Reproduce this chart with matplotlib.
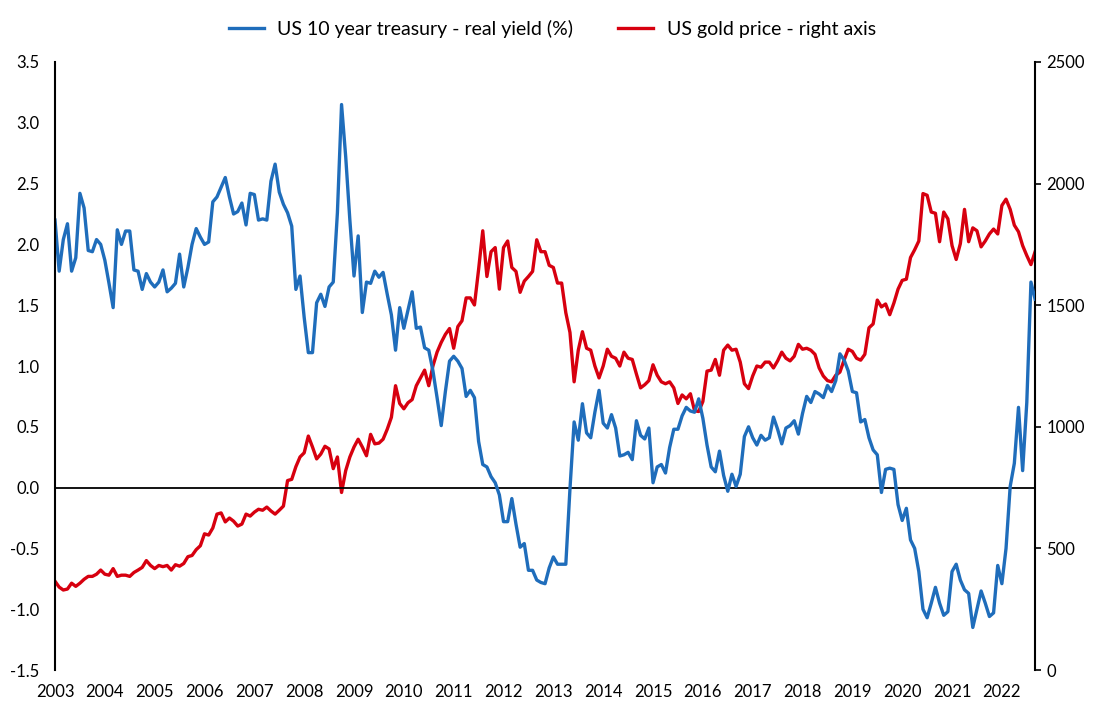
import numpy as np
import matplotlib
matplotlib.use("Agg")
import matplotlib.pyplot as plt

# monthly readings, Jan 2003 onwards
real_yield = [
    2.20, 1.78, 2.04, 2.17, 1.78, 1.89, 2.42, 2.30, 1.95, 1.94, 2.04, 2.00,
    1.87, 1.68, 1.48, 2.12, 2.00, 2.11, 2.11, 1.79, 1.78, 1.63, 1.76, 1.69,
    1.65, 1.69, 1.79, 1.61, 1.64, 1.68, 1.92, 1.65, 1.81, 2.00, 2.13, 2.06,
    2.00, 2.02, 2.35, 2.39, 2.47, 2.55, 2.39, 2.25, 2.27, 2.34, 2.16, 2.42,
    2.41, 2.20, 2.21, 2.20, 2.52, 2.66, 2.43, 2.33, 2.26, 2.15, 1.63, 1.74,
    1.40, 1.11, 1.11, 1.52, 1.59, 1.49, 1.65, 1.69, 2.26, 3.15,
    2.72, 2.20, 1.74, 2.07, 1.44, 1.69, 1.68, 1.78, 1.73, 1.77,
    1.59, 1.42, 1.13, 1.48, 1.31, 1.46, 1.61, 1.31, 1.32, 1.15,
    1.13, 0.96, 0.74, 0.51, 0.79, 1.04, 1.08, 1.04, 0.98, 0.75,
    0.80, 0.74, 0.38, 0.19, 0.17, 0.09, 0.04, -0.06, -0.28, -0.28,
    -0.09, -0.30, -0.49, -0.46, -0.68, -0.68, -0.76, -0.78,
    -0.79, -0.66, -0.57, -0.63, -0.63, -0.63, -0.01, 0.54, 0.39, 0.69,
    0.45, 0.41, 0.62, 0.80, 0.53, 0.49, 0.60, 0.49, 0.26, 0.27,
    0.29, 0.23, 0.55, 0.43, 0.40, 0.49, 0.04, 0.17, 0.19, 0.12,
    0.33, 0.48, 0.48, 0.59, 0.66, 0.63, 0.62, 0.73, 0.57, 0.35,
    0.17, 0.13, 0.30, 0.10, -0.03, 0.11, 0.01, 0.11, 0.42, 0.50,
    0.41, 0.35, 0.43, 0.39, 0.41, 0.58, 0.48, 0.36, 0.49, 0.51,
    0.55, 0.44, 0.61, 0.75, 0.70, 0.79, 0.77, 0.74, 0.84, 0.79,
    0.88, 1.10, 1.05, 0.96, 0.79, 0.78, 0.54, 0.56, 0.41, 0.31,
    0.27, -0.04, 0.15, 0.16, 0.15, -0.14, -0.27, -0.17, -0.43,
    -0.50, -0.69, -1.00, -1.07, -0.95, -0.82, -0.95, -1.05, -1.02, -0.69,
    -0.63, -0.76, -0.84, -0.87, -1.15, -1.00, -0.85, -0.95, -1.06, -1.03,
    -0.64, -0.79, -0.50, 0.01, 0.20, 0.66, 0.14, 0.70, 1.69, 1.55,
]

gold_price = [
    365, 341, 329, 333, 357, 344, 357, 373, 385, 385, 394, 411,
    394, 390, 417, 385, 390, 390, 385, 401, 411, 422, 450, 430,
    417, 430, 425, 430, 411, 433, 427, 438, 466, 471, 495, 511,
    560, 555, 584, 641, 646, 609, 625, 612, 592, 600, 641, 633,
    649, 661, 657, 670, 654, 641, 657, 674, 779, 784, 836, 876,
    893, 962, 917, 868, 888, 920, 909, 828, 876, 730,
    820, 876, 917, 949, 917, 881, 969, 930, 933, 949,
    990, 1039, 1169, 1096, 1074, 1099, 1112, 1169, 1201, 1233,
    1169, 1250, 1307, 1347, 1380, 1404, 1323, 1412, 1436, 1530,
    1530, 1501, 1647, 1806, 1618, 1720, 1737, 1566, 1737, 1764,
    1655, 1639, 1553, 1599, 1618, 1639, 1769, 1720, 1720,
    1664, 1655, 1591, 1591, 1469, 1388, 1185, 1315, 1391, 1323,
    1315, 1250, 1201, 1250, 1319, 1290, 1282, 1250, 1307, 1282,
    1277, 1217, 1160, 1173, 1190, 1255, 1212, 1185, 1177, 1185,
    1160, 1096, 1131, 1115, 1136, 1066, 1063, 1104, 1229, 1233,
    1277, 1212, 1315, 1336, 1315, 1319, 1266, 1177, 1157, 1209,
    1250, 1245, 1266, 1266, 1242, 1271, 1307, 1282, 1271,
    1290, 1339, 1319, 1323, 1315, 1298, 1242, 1209, 1190, 1185,
    1212, 1225, 1274, 1319, 1310, 1282, 1274, 1298, 1407, 1423,
    1521, 1493, 1505, 1461, 1509, 1566, 1602, 1607, 1696, 1728,
    1764, 1959, 1952, 1883, 1878, 1761, 1883, 1855, 1745, 1688,
    1753, 1894, 1761, 1818, 1806, 1740, 1764, 1793, 1813, 1793,
    1910, 1936, 1894, 1829, 1802, 1745, 1704, 1667, 1720,
]

years = list(range(2003, 2023))

n = min(len(real_yield), len(gold_price))
x = 2003 + np.arange(n) / 12.0

plt.rcParams['font.family'] = ['Lato', 'DejaVu Sans']

BLUE = '#1f6dbb'
RED = '#d7000f'

fig = plt.figure(figsize=(11, 7.15), dpi=100)
ax1 = fig.add_axes([0.05, 0.0629, 0.891, 0.8504])
ax2 = ax1.twinx()

l2, = ax2.plot(x, gold_price[:n], color=RED, lw=2.4, label='US gold price - right axis')
l1, = ax1.plot(x, real_yield[:n], color=BLUE, lw=2.4, label='US 10 year treasury - real yield (%)')
ax1.axhline(0, color='black', lw=1.3, zorder=1)

# blue series sits on top of the gold line
ax1.set_zorder(ax2.get_zorder() + 1)
ax1.patch.set_visible(False)

ax1.set_xlim(x[0], x[-1])
ax1.set_ylim(-1.5, 3.5)
ax2.set_ylim(0, 2500)

ax1.set_yticks(np.arange(-1.5, 3.51, 0.5))
ax1.set_yticklabels([f"{v:.1f}" for v in np.arange(-1.5, 3.51, 0.5)])
ax2.set_yticks(np.arange(0, 2501, 500))
ax1.set_xticks(years)
ax1.set_xticklabels([str(y) for y in years])

for s in ['top', 'right', 'bottom']:
    ax1.spines[s].set_visible(False)
for s in ['top', 'left', 'bottom']:
    ax2.spines[s].set_visible(False)
ax1.spines['left'].set_linewidth(1.5)
ax2.spines['right'].set_linewidth(1.5)

ax1.tick_params(axis='y', length=0, pad=11, labelsize=12)
ax1.tick_params(axis='x', length=0, pad=10, labelsize=12)
ax2.tick_params(axis='y', length=4, width=1.2, pad=4, labelsize=12)

fig.legend(handles=[l1, l2], loc='upper center', bbox_to_anchor=(0.502, 0.997),
           ncol=2, frameon=False, fontsize=14, handlelength=1.8,
           handletextpad=0.7, columnspacing=2.3)

fig.savefig('out.png', dpi=100)
